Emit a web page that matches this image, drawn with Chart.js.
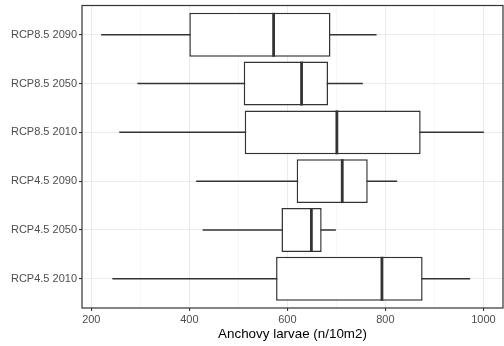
<!DOCTYPE html>
<html>
<head>
<meta charset="utf-8">
<script src="https://cdn.jsdelivr.net/npm/chart.js@4"></script>
<style>
  html, body { margin: 0; padding: 0; background: #fff; }
  canvas { display: block; }
</style>
</head>
<body>
<canvas id="boxChart" width="504" height="346"></canvas>
<script>
// Categories, bottom to top
const categories = ['RCP4.5 2010', 'RCP4.5 2050', 'RCP4.5 2090', 'RCP8.5 2010', 'RCP8.5 2050', 'RCP8.5 2090'];
const mins    = [243, 427, 414, 257, 294, 220];
const q1s     = [577, 588, 619, 513, 511, 400];
const medians = [793, 649, 712, 701, 629, 572];
const q3s     = [876, 670, 764, 872, 683, 688];
const maxs    = [973, 699, 824, 1001, 754, 782];

const xMajorTicks = [200, 400, 600, 800, 1000];
const xMinorTicks = [300, 500, 700, 900];

const ink = '#333333';
const fontFamily = '"Liberation Sans", Arial, Helvetica, sans-serif';

// whisker lines, one dataset per category (drawn under the boxes)
const whiskerSets = categories.map((c, i) => ({
  type: 'line',
  data: [{ x: mins[i], y: i + 1 }, { x: maxs[i], y: i + 1 }],
  borderColor: ink,
  borderWidth: 1.5,
  pointRadius: 0,
  fill: false,
  order: 2
}));

// median marks + panel border
const boxExtras = {
  id: 'boxExtras',
  afterDatasetsDraw(chart) {
    const ctx = chart.ctx;
    const xScale = chart.scales.x;
    const meta = chart.getDatasetMeta(0);
    ctx.save();
    ctx.strokeStyle = ink;
    ctx.lineWidth = 2.8;
    meta.data.forEach((bar, i) => {
      const { y, height } = bar.getProps(['y', 'height'], true);
      const px = xScale.getPixelForValue(medians[i]);
      ctx.beginPath();
      ctx.moveTo(px, y - height / 2);
      ctx.lineTo(px, y + height / 2);
      ctx.stroke();
    });
    const a = chart.chartArea;
    ctx.lineWidth = 1.2;
    ctx.strokeStyle = '#333';
    ctx.strokeRect(a.left, a.top, a.right - a.left, a.bottom - a.top);
    ctx.restore();
  }
};

const isMajor = v => xMajorTicks.includes(v);

new Chart(document.getElementById('boxChart').getContext('2d'), {
  type: 'bar',
  data: {
    datasets: [{
      type: 'bar',
      indexAxis: 'y',
      data: categories.map((c, i) => ({ y: i + 1, x: [q1s[i], q3s[i]] })),
      backgroundColor: '#ffffff',
      borderColor: ink,
      borderWidth: 1.5,
      borderSkipped: false,
      categoryPercentage: 1,
      barPercentage: 0.9,
      order: 1
    }, ...whiskerSets]
  },
  options: {
    indexAxis: 'y',
    responsive: false,
    animation: false,
    layout: { padding: { top: 5.5, right: 1, left: 0, bottom: 0 } },
    plugins: {
      legend: { display: false },
      tooltip: { enabled: false }
    },
    scales: {
      x: {
        type: 'linear',
        min: 181,
        max: 1040,
        offset: false,
        afterBuildTicks: s => {
          s.ticks = [...xMajorTicks, ...xMinorTicks].sort((a, b) => a - b).map(v => ({ value: v }));
        },
        afterFit: s => { s.height = 38; s.paddingLeft = 0; s.paddingRight = 0; },
        border: { display: false },
        grid: {
          offset: false,
          color: c => isMajor(c.tick.value) ? '#EBEBEB' : '#F4F4F4',
          lineWidth: c => isMajor(c.tick.value) ? 1.1 : 0.7,
          drawTicks: true,
          tickLength: 3,
          tickWidth: 1.1,
          tickColor: c => isMajor(c.tick.value) ? ink : 'rgba(0,0,0,0)'
        },
        ticks: {
          autoSkip: false,
          maxRotation: 0,
          padding: 2,
          color: '#4D4D4D',
          font: { family: fontFamily, size: 11 },
          callback: v => isMajor(v) ? String(v) : ''
        },
        title: {
          display: true,
          text: 'Anchovy larvae (n/10m2)',
          color: '#000',
          font: { family: fontFamily, size: 13.4 },
          padding: { top: 1, bottom: 4 }
        }
      },
      y: {
        type: 'linear',
        min: 0.4,
        max: 6.6,
        offset: false,
        afterBuildTicks: s => {
          s.ticks = categories.map((c, i) => ({ value: i + 1 }));
        },
        afterFit: s => { s.width = 82; s.paddingTop = 0; s.paddingBottom = 0; },
        border: { display: false },
        grid: {
          offset: false,
          color: '#EBEBEB',
          lineWidth: 1.1,
          drawTicks: true,
          tickLength: 3,
          tickWidth: 1.1,
          tickColor: ink
        },
        ticks: {
          autoSkip: false,
          padding: 2,
          color: '#4D4D4D',
          font: { family: fontFamily, size: 11 },
          callback: v => categories[Math.round(v) - 1] || ''
        }
      }
    }
  },
  plugins: [boxExtras]
});
</script>
</body>
</html>
